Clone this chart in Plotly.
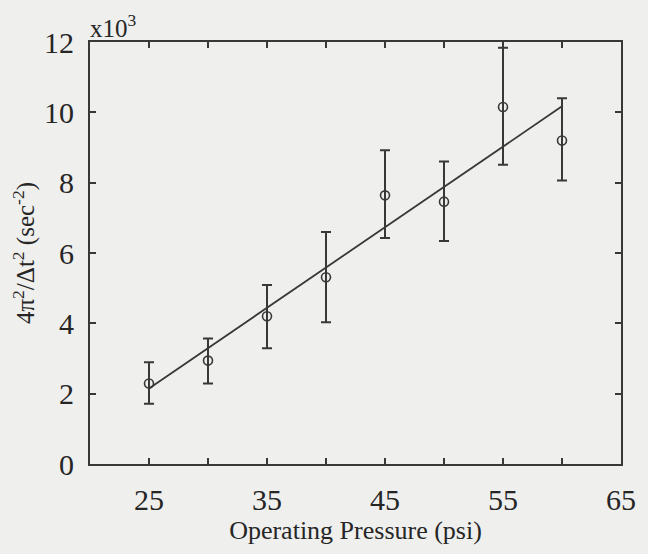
import plotly.graph_objects as go

pressure = [25, 30, 35, 40, 45, 50, 55, 60]
value = [2.29, 2.94, 4.20, 5.31, 7.64, 7.46, 10.15, 9.20]
err_plus = [0.60, 0.63, 0.89, 1.29, 1.28, 1.14, 1.69, 1.20]
err_minus = [0.58, 0.65, 0.91, 1.28, 1.21, 1.12, 1.64, 1.14]
fit_x = [25, 60]
fit_y = [2.15, 10.17]

x_tickvals = [25, 30, 35, 40, 45, 50, 55, 60, 65]
x_ticktext = ["25", "", "35", "", "45", "", "55", "", "65"]
y_tickvals = [0, 2, 4, 6, 8, 10, 12]
y_ticktext = ["0", "2", "4", "6", "8", "10", "12"]

ink = "#383838"
text_col = "#262626"
font_family = "Liberation Serif"

fig = go.Figure()
fig.add_trace(go.Scatter(
    x=fit_x, y=fit_y, mode="lines",
    line=dict(color=ink, width=1.8), showlegend=False, hoverinfo="skip"))
fig.add_trace(go.Scatter(
    x=pressure, y=value, mode="markers",
    marker=dict(symbol="circle-open", size=9, color=ink, line=dict(width=1.6, color=ink)),
    error_y=dict(type="data", array=err_plus, arrayminus=err_minus,
                 color=ink, thickness=2, width=5),
    showlegend=False))

axis_common = dict(
    showline=True, linecolor=ink, linewidth=2, mirror="ticks",
    ticks="inside", ticklen=6, tickwidth=1.6, tickcolor=ink,
    showgrid=False, zeroline=False,
    tickfont=dict(family=font_family, size=30, color=text_col),
)

fig.update_xaxes(range=[20, 65], tickmode="array", tickvals=x_tickvals, ticktext=x_ticktext,
                 ticklabelstandoff=8,
                 title=dict(text="Operating Pressure (psi)",
                            font=dict(family=font_family, size=26, color=text_col), standoff=6),
                 **axis_common)
fig.update_yaxes(range=[0, 12], tickmode="array", tickvals=y_tickvals, ticktext=y_ticktext,
                 ticklabelstandoff=8,
                 title=dict(text="4π<sup>2</sup>/Δt<sup>2</sup> (sec<sup>-2</sup>)",
                            font=dict(family=font_family, size=25, color=text_col), standoff=2),
                 **axis_common)

fig.add_annotation(text="x10<sup>3</sup>", xref="paper", yref="paper", x=0.0, y=1.0,
                   xanchor="left", yanchor="bottom", showarrow=False, xshift=-2, yshift=-2,
                   font=dict(family=font_family, size=25, color=text_col))

fig.update_layout(
    width=648, height=554,
    margin=dict(l=90, r=20, t=42, b=90),
    paper_bgcolor="#efefed", plot_bgcolor="#efefed",
)

fig.write_html("out.html", config={"displayModeBar": False},
               post_script="document.body.style.margin='0';")
